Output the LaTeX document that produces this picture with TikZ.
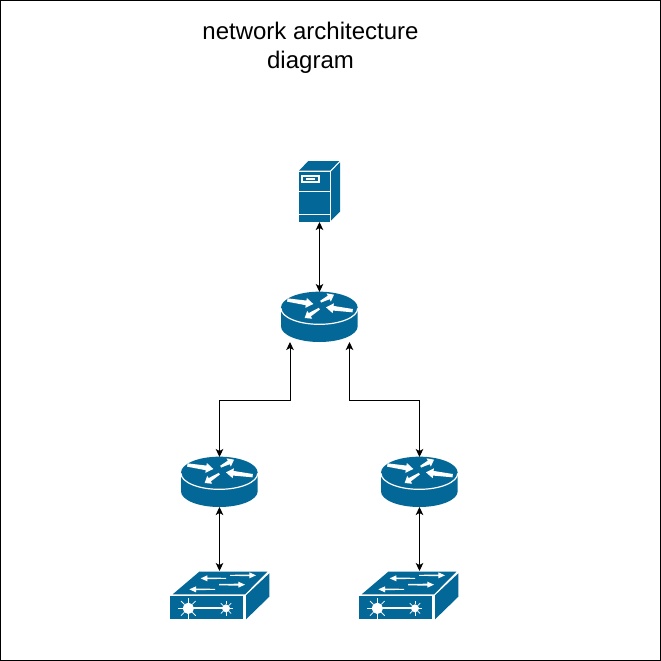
\documentclass[tikz,border=0pt]{standalone}
\usepackage{fontspec}
\setmainfont{Liberation Sans}
\usetikzlibrary{arrows.meta,calc}
\definecolor{cisco}{HTML}{036897}
\tikzset{
  x=1pt,y=-1pt,
  icon/.style={inner sep=0pt,outer sep=0pt,minimum width=#1},
  link/.style={line width=1pt,black,{Stealth[length=8pt,width=7.5pt,inset=2pt]}-{Stealth[length=8pt,width=7.5pt,inset=2pt]}},
}
% tapered white arrow in 3x-zoom units: x1 y1 x2 y2 tail-half-width head-length body-half-width head-half-width
\newcommand\taper[8]{%
  \pgfmathsetmacro\tang{atan2(-(#4-#2),#3-#1)}%
  \pgfmathsetmacro\tlen{veclen(#3-#1,#4-#2)}%
  \fill[white,shift={(#1,#2)},rotate=\tang] (0,-#5) -- (\tlen-#6,-#7) -- (\tlen-#6,-#8) -- (\tlen,0) -- (\tlen-#6,#8) -- (\tlen-#6,#7) -- (0,#5) -- cycle;}
\newcommand\routericon[2]{%
  \begin{scope}[shift={(#1,#2)},scale=1/3]
    \fill[cisco] (33,83) -- (33,139) arc[x radius=115,y radius=47,start angle=180,end angle=0] -- (263,83) -- cycle;
    \fill[cisco] (148,83) ellipse[x radius=115,y radius=48];
    \draw[white,line width=1.2pt] (33,85) arc[x radius=115,y radius=48,start angle=180,end angle=0];
    \taper{52}{60}{130}{72}{5}{22}{7}{15}
    \taper{152}{65}{192}{44}{3}{18}{6}{14}
    \taper{248}{92}{168}{82}{5}{22}{7}{15}
    \taper{148}{86}{104}{114}{3}{18}{6}{14}
  \end{scope}}
\newcommand\switchicon[2]{%
  \begin{scope}[shift={(#1,#2)},scale=1/3]
    \fill[cisco] (38,103) -- (118,35) -- (322,35) -- (255,103) -- cycle;
    \fill[cisco] (30,108) rectangle (250,178);
    \fill[cisco] (258,106) -- (328,40) -- (328,110) -- (258,178) -- cycle;
    \taper{198}{55}{122}{55}{1.5}{20}{2.5}{9}
    \taper{210}{46}{288}{46}{1.5}{20}{2.5}{9}
    \taper{177}{74}{255}{74}{2}{20}{3}{9}
    \taper{165}{88}{88}{88}{1.5}{20}{2.5}{9}
    \draw[white,line width=1.8pt] (85,145) -- (198,145);
    \fill[white] (85,145) circle[radius=17] (198,145) circle[radius=12];
    \foreach \a in {0,45,...,315} {
      \draw[white,line width=.8pt] (85,145) ++(\a:17) -- ++(\a:14);
      \draw[white,line width=.8pt] (198,145) ++(\a:12) -- ++(\a:10);
    }
  \end{scope}}
\begin{document}
\begin{tikzpicture}
  \useasboundingbox (0,0) rectangle (661,661);
  \fill[white] (0,0) rectangle (661,661);
  \draw[black,line width=1pt] (.5,.5) rectangle (660,660);
  \node[inner sep=0pt,align=center,font=\fontsize{24}{29}\selectfont] (title) at (310.5,47.5) {network architecture\\diagram};
  % server
  \begin{scope}[shift={(270,150)},scale=1/3]
    \fill[cisco] (87,62) -- (115,33) -- (208,33) -- (180,62) -- cycle;
    \fill[cisco] (183,65) -- (210,37) -- (210,185) -- (183,212) -- cycle;
    \fill[cisco] (87,65) rectangle (180,215);
    \fill[white] (94,74) rectangle (150,98);
    \fill[cisco] (100,80) rectangle (144,92);
    \fill[white] (108,84) rectangle (134,89);
    \draw[white,line width=1pt] (87,123) -- (180,123) (87,192) -- (180,192);
  \end{scope}
  \routericon{270}{280}
  \routericon{170}{445}
  \routericon{370}{445}
  \switchicon{160}{560}
  \switchicon{349}{560}
  % anchors
  \node[icon=41pt,minimum height=50pt] (srv) at (319.5,197) {};
  \node[icon=77pt,minimum height=50pt] (r0) at (319.5,317) {};
  \node[icon=77pt,minimum height=50pt] (r1) at (219.5,482) {};
  \node[icon=77pt,minimum height=50pt] (r2) at (419.5,482) {};
  \node[icon=100pt,minimum height=50pt] (s1) at (219.5,596) {};
  \node[icon=100pt,minimum height=50pt] (s2) at (408.5,596) {};
  \coordinate (bl) at (290,342);
  \coordinate (br) at (349.5,342);
  \draw[link] (srv.south) -- (r0.north);
  \draw[link] (bl) -- (bl |- 0,400) -| (r1.north);
  \draw[link] (br) -- (br |- 0,400) -| (r2.north);
  \draw[link] (r1.south) -- (s1.north);
  \draw[link] (r2.south) -- (r2.south |- s2.north);
\end{tikzpicture}
\end{document}
